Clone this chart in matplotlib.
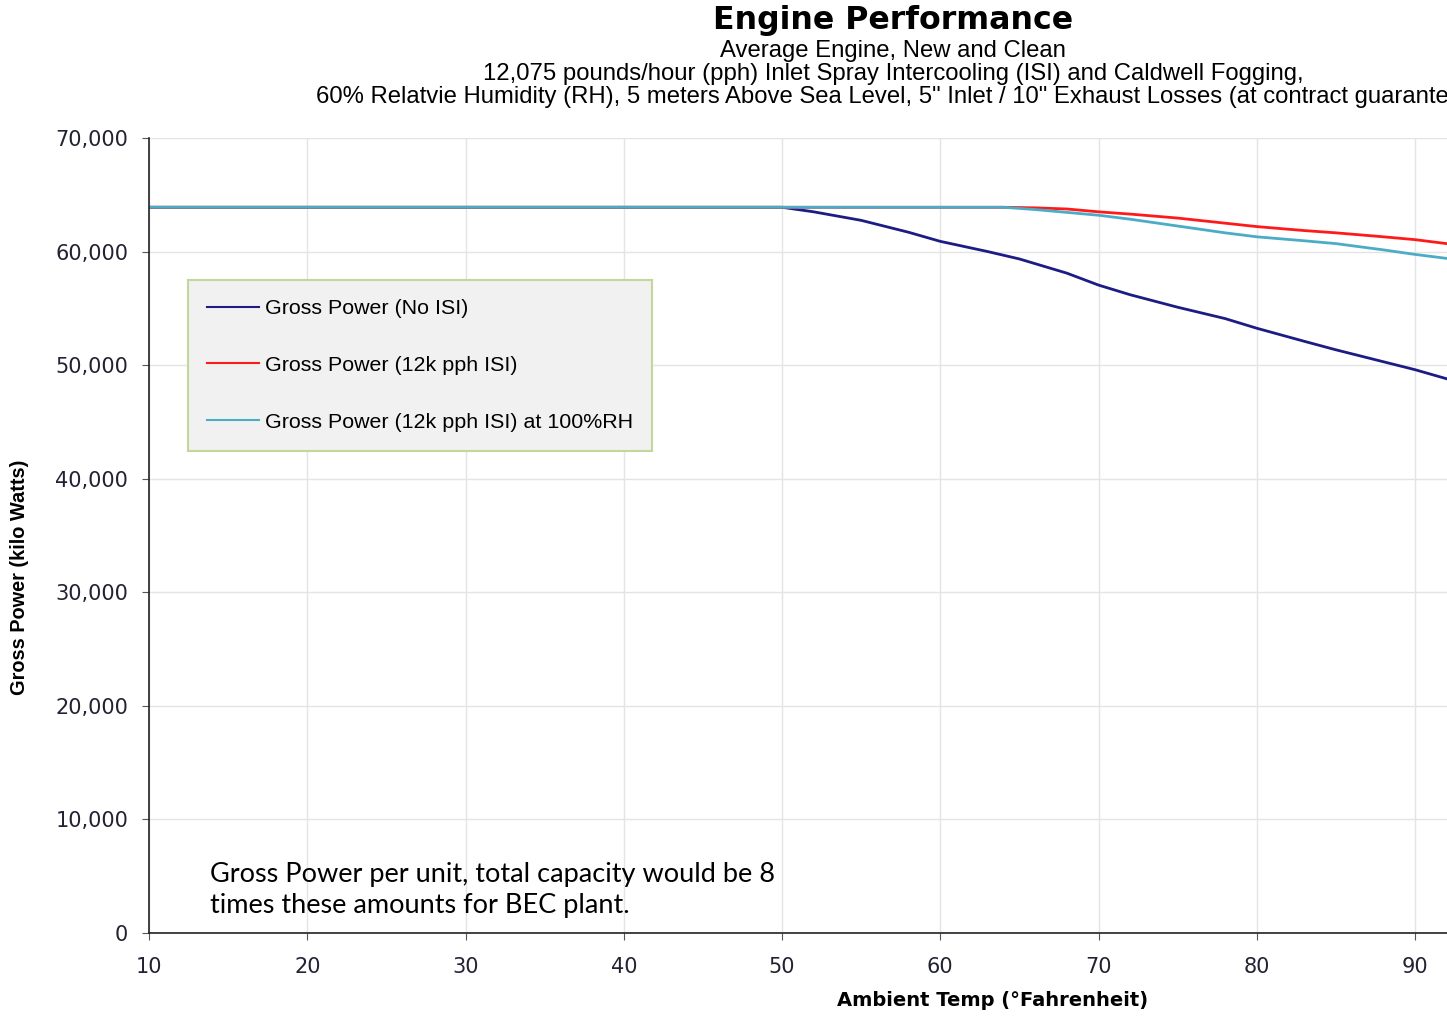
import matplotlib.pyplot as plt
from matplotlib.ticker import FuncFormatter

# --- Data ---
temp_no_isi = [10, 50, 52, 55, 58, 60, 63, 65, 68, 70, 72, 75, 78, 80, 83, 85, 88, 90, 92]
power_no_isi = [63900, 63900, 63500, 62750, 61700, 60900, 60000, 59350, 58100, 57050, 56200, 55100, 54100, 53250, 52100, 51350, 50300, 49600, 48800]

temp_isi = [10, 64, 66, 68, 70, 72, 75, 78, 80, 83, 85, 88, 90, 92]
power_isi = [63900, 63900, 63850, 63750, 63500, 63300, 62950, 62500, 62200, 61850, 61650, 61300, 61050, 60700]

temp_isi_rh = [10, 64, 66, 68, 70, 72, 75, 78, 80, 83, 85, 88, 90, 92]
power_isi_rh = [63900, 63900, 63700, 63450, 63200, 62850, 62250, 61650, 61300, 60950, 60700, 60150, 59750, 59400]

series_labels = ["Gross Power (No ISI)", "Gross Power (12k pph ISI)",
                 "Gross Power (12k pph ISI) at 100%RH"]
series_colors = ["#1c1c84", "#ff1a1a", "#4bacc6"]

x_ticks = [10, 20, 30, 40, 50, 60, 70, 80, 90]
y_ticks = [0, 10000, 20000, 30000, 40000, 50000, 60000, 70000]

W, H = 1447, 1018
fig = plt.figure(figsize=(W / 100, H / 100), dpi=100)
ax_w = 1 - 149 / W + 0.05
ax = fig.add_axes([149 / W, 1 - 933 / H, ax_w, (933 - 138) / H])

ax.plot(temp_no_isi, power_no_isi, color=series_colors[0], lw=2, label=series_labels[0])
ax.plot(temp_isi, power_isi, color=series_colors[1], lw=2, label=series_labels[1])
ax.plot(temp_isi_rh, power_isi_rh, color=series_colors[2], lw=2, label=series_labels[2])

# 10 degrees ~ 158 px in the reference
ax.set_xlim(10, 10 + ax_w * W / 15.825)
ax.set_ylim(0, 70000)
ax.set_xticks(x_ticks)
ax.set_yticks(y_ticks)
ax.yaxis.set_major_formatter(FuncFormatter(lambda v, p: f"{int(v):,}"))
ax.grid(True, color="#e4e4e4", lw=1)
ax.set_axisbelow(True)
for s in ["top", "right"]:
    ax.spines[s].set_visible(False)
for s in ["left", "bottom"]:
    ax.spines[s].set_color("#222222")
    ax.spines[s].set_linewidth(1.2)
ax.tick_params(axis="both", direction="out", length=5, color="#555555",
               labelsize=15, labelcolor="#222233")
ax.tick_params(axis="x", pad=12)
ax.tick_params(axis="y", pad=10)

leg = ax.legend(loc="upper left", bbox_to_anchor=(188 / W, 1 - 280 / H),
                bbox_transform=fig.transFigure, borderaxespad=0,
                prop={"family": "Liberation Sans", "size": 15.4},
                frameon=True, fancybox=False, facecolor="#f1f1f1",
                edgecolor="#c3d69b", framealpha=1, borderpad=0.9,
                labelspacing=1.76, handlelength=2.4, handletextpad=0.28)
leg.get_frame().set_linewidth(1.5)
for line in leg.get_lines():
    line.set_linewidth(1.5)

# titles
cx = 893 / W
fig.text(cx, 1 - 20 / H, "Engine Performance", ha="center", va="center",
         fontsize=22.8, fontweight="bold", family="DejaVu Sans")
subtitles = ["Average Engine, New and Clean",
             "12,075 pounds/hour (pph) Inlet Spray Intercooling (ISI) and Caldwell Fogging,",
             "60% Relatvie Humidity (RH), 5 meters Above Sea Level, 5\" Inlet / 10\" Exhaust Losses (at contract guarantee)"]
for i, s in enumerate(subtitles):
    fig.text(cx, 1 - (51 + 23 * i) / H, s, ha="center", va="center",
             fontsize=17.2, family="Liberation Sans")

fig.text(993 / W, 1 - 1001 / H, "Ambient Temp (°Fahrenheit)", ha="center", va="center",
         fontsize=14, fontweight="bold", family="DejaVu Sans")
fig.text(20 / W, 1 - 577 / H, "Gross Power (kilo Watts)", ha="center", va="center",
         rotation=90, fontsize=14.4, fontweight="bold", family="Liberation Sans")

fig.text(210 / W, 1 - 890 / H, "Gross Power per unit, total capacity would be 8\ntimes these amounts for BEC plant.",
         ha="left", va="center", fontsize=19.5, family="Lato", linespacing=1.32)

fig.savefig("out.png", dpi=100)
